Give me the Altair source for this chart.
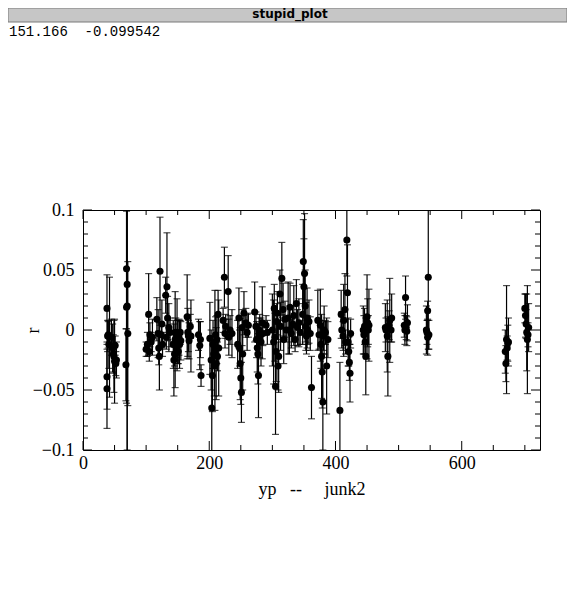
import altair as alt
import pandas as pd

# ---- data: x position, r value, error half-width ----
xs = [38, 39, 38, 38, 40, 41, 42,
      45, 47, 48, 49, 50, 52, 53, 51,
      69, 70, 69, 71, 68, 70,
      100, 102, 104, 106, 108, 110, 105,
      117, 119, 120, 121, 122, 124, 125, 126,
      131, 133, 134, 132, 136, 138,
      143, 144, 145, 146, 147, 148, 149, 150, 151, 152, 153, 154, 155,
      165, 166, 167, 168, 170, 171,
      183, 185, 187, 186,
      201, 203, 204, 205, 206, 207, 208, 209, 210, 211, 212, 213, 214, 215,
      222, 224, 225, 226, 230, 231, 233, 236,
      245, 247, 248, 249, 250, 251, 252, 253, 255, 258, 260, 262,
      272, 274, 275, 276, 277, 278, 279, 280, 282, 284, 285, 290, 292,
      300, 302, 303, 304, 305, 306, 307, 308, 309, 310, 312, 313, 315, 317, 318, 320, 322,
      325, 327, 328, 330, 332, 334, 336, 338, 340, 342, 344,
      348, 349, 350, 351, 352, 353, 354, 355, 356, 358, 360, 362,
      372, 374, 376, 377, 378, 379, 380, 381, 382, 384, 386, 388,
      407, 409, 410, 412, 413, 415, 416, 418, 419, 420, 421, 422, 423, 424,
      444, 445, 446, 447, 448, 450, 451, 452, 453,
      479, 480, 482, 483, 485, 486, 488, 489,
      509, 510, 511, 512, 513, 514,
      545, 546, 546, 547, 548, 544,
      669, 670, 671, 672, 673, 674,
      700, 701, 702, 703, 704, 705, 706]

rs = [0.018, -0.005, -0.039, -0.049, -0.004, -0.012, -0.006,
      -0.006, -0.015, -0.020, -0.022, -0.026, -0.028, -0.025, -0.013,
      0.051, 0.038, 0.019, -0.003, -0.029, 0.020,
      -0.016, -0.012, 0.013, -0.004, -0.010, -0.006, -0.018,
      0.009, -0.003, -0.015, -0.022, 0.049, -0.004, 0.005, -0.012,
      0.029, 0.036, 0.010, -0.006, 0.002, -0.002,
      -0.012, -0.025, -0.020, -0.008, -0.002, -0.015, -0.004, -0.010, -0.018, -0.006, -0.012, -0.002, -0.009,
      0.011, -0.002, -0.005, -0.009, 0.003, -0.005,
      -0.004, -0.013, -0.038, -0.008,
      -0.007, -0.025, -0.065, -0.038, -0.012, -0.020, -0.030, -0.017, -0.004, -0.028, -0.008, -0.022, 0.013, -0.015,
      0.008, 0.044, -0.003, 0.003, 0.032, -0.006, 0.000, -0.003,
      -0.012, 0.010, -0.015, -0.028, -0.040, -0.052, 0.002, -0.020, 0.014, 0.006, -0.002, 0.004,
      0.015, 0.003, -0.008, -0.015, -0.020, -0.038, 0.000, -0.005, -0.010, 0.006, -0.003, 0.004, -0.002,
      0.000, -0.010, 0.018, -0.006, -0.047, -0.018, 0.007, 0.014, -0.030, -0.022, 0.030, 0.003, 0.043, 0.017, -0.008, 0.009, 0.000,
      0.010, 0.000, 0.019, -0.003, 0.005, 0.012, -0.008, 0.022, 0.002, 0.006, -0.002,
      0.013, 0.057, 0.036, 0.047, 0.020, 0.003, -0.005, 0.010, 0.000, 0.007, -0.003, -0.048,
      0.008, -0.004, 0.004, -0.012, -0.022, -0.035, -0.060, -0.005, 0.000, -0.002, -0.030, -0.008,
      -0.067, 0.013, 0.000, -0.005, 0.008, 0.017, -0.010, 0.075, 0.031, -0.010, -0.018, -0.027, -0.036, -0.003,
      0.000, -0.004, 0.003, -0.010, -0.022, 0.011, 0.006, 0.000, 0.004,
      0.002, 0.000, -0.005, -0.022, 0.004, 0.008, 0.000, 0.010,
      0.004, 0.000, 0.027, 0.002, -0.001, 0.006,
      -0.002, 0.016, -0.006, 0.044, -0.004, 0.000,
      -0.018, -0.028, -0.008, -0.015, -0.011, -0.010,
      0.018, 0.012, 0.005, -0.002, -0.008, -0.004, 0.002]

errs = [0.028, 0.013, 0.027, 0.033, 0.011, 0.020, 0.050,
        0.015, 0.020, 0.016, 0.030, 0.035, 0.010, 0.015, 0.008,
        0.050, 0.140, 0.080, 0.060, 0.030, 0.120,
        0.006, 0.010, 0.034, 0.010, 0.008, 0.015, 0.008,
        0.018, 0.020, 0.014, 0.028, 0.045, 0.010, 0.020, 0.010,
        0.015, 0.045, 0.018, 0.010, 0.020, 0.012,
        0.020, 0.030, 0.010, 0.040, 0.012, 0.008, 0.030, 0.018, 0.010, 0.015, 0.020, 0.010, 0.016,
        0.035, 0.020, 0.013, 0.015, 0.010, 0.030,
        0.013, 0.020, 0.009, 0.015,
        0.030, 0.025, 0.060, 0.030, 0.020, 0.012, 0.025, 0.050, 0.015, 0.030, 0.020, 0.012, 0.020, 0.040,
        0.010, 0.025, 0.012, 0.010, 0.030, 0.015, 0.012, 0.020,
        0.020, 0.025, 0.015, 0.030, 0.022, 0.025, 0.015, 0.030, 0.018, 0.012, 0.015, 0.010,
        0.025, 0.012, 0.015, 0.020, 0.025, 0.035, 0.010, 0.018, 0.020, 0.030, 0.010, 0.008, 0.010,
        0.030, 0.035, 0.020, 0.020, 0.040, 0.025, 0.015, 0.018, 0.020, 0.030, 0.020, 0.020, 0.030, 0.022, 0.020, 0.015, 0.010,
        0.030, 0.020, 0.020, 0.012, 0.015, 0.025, 0.010, 0.020, 0.015, 0.020, 0.010,
        0.025, 0.035, 0.040, 0.050, 0.030, 0.020, 0.015, 0.025, 0.012, 0.018, 0.014, 0.026,
        0.025, 0.012, 0.030, 0.020, 0.035, 0.030, 0.040, 0.012, 0.020, 0.010, 0.040, 0.015,
        0.040, 0.020, 0.015, 0.012, 0.030, 0.030, 0.010, 0.030, 0.040, 0.020, 0.012, 0.015, 0.024, 0.012,
        0.020, 0.016, 0.015, 0.010, 0.032, 0.035, 0.020, 0.012, 0.030,
        0.020, 0.010, 0.030, 0.033, 0.012, 0.035, 0.010, 0.020,
        0.010, 0.012, 0.018, 0.010, 0.012, 0.015,
        0.010, 0.008, 0.015, 0.060, 0.012, 0.020,
        0.018, 0.015, 0.045, 0.010, 0.015, 0.020,
        0.012, 0.018, 0.012, 0.032, 0.045, 0.010, 0.020]

x_major = [0, 200, 400, 600]
x_minor = [50, 100, 150, 250, 300, 350, 450, 500, 550, 650, 700]
y_major = [-0.1, -0.05, 0, 0.05, 0.1]
y_minor = [-0.09, -0.08, -0.07, -0.06, -0.04, -0.03, -0.02, -0.01,
           0.01, 0.02, 0.03, 0.04, 0.06, 0.07, 0.08, 0.09]

W, H = 457, 240
FONT = "Liberation Serif"
LW = 1.2

df = pd.DataFrame({"x": xs, "r": rs, "e": errs})
df["lo"] = df["r"] - df["e"]
df["hi"] = df["r"] + df["e"]

xscale = alt.Scale(domain=[0, 724], nice=False, zero=False)
yscale = alt.Scale(domain=[-0.1, 0.1], nice=False, zero=False)

xaxis = alt.Axis(values=x_major, title="yp\u00a0\u00a0\u00a0--\u00a0\u00a0\u00a0\u00a0\u00a0junk2",
                 ticks=False, domain=False, grid=False, labelPadding=4,
                 labelFlush=False, titlePadding=8, format="d")
yaxis = alt.Axis(values=y_major, title="r", ticks=False, domain=False,
                 grid=False, labelPadding=9, labelFlush=False,
                 titleX=-41, titleY=H / 2, format="~g")

base = alt.Chart(df)

bars = base.mark_rule(color="black", strokeWidth=LW, clip=True).encode(
    x=alt.X("x:Q", scale=xscale, axis=xaxis),
    y=alt.Y("lo:Q", scale=yscale, axis=yaxis),
    y2="hi:Q",
)
cap_lo = base.mark_tick(color="black", orient="horizontal", size=7, thickness=LW, clip=True).encode(
    x=alt.X("x:Q", scale=xscale, axis=xaxis),
    y=alt.Y("lo:Q", scale=yscale, axis=yaxis),
)
cap_hi = base.mark_tick(color="black", orient="horizontal", size=7, thickness=LW, clip=True).encode(
    x=alt.X("x:Q", scale=xscale, axis=xaxis),
    y=alt.Y("hi:Q", scale=yscale, axis=yaxis),
)
points = base.mark_circle(size=50, color="black", opacity=1).encode(
    x=alt.X("x:Q", scale=xscale, axis=xaxis),
    y=alt.Y("r:Q", scale=yscale, axis=yaxis),
)


def xticks(vals, L):
    c = alt.Chart(pd.DataFrame({"x": vals}))
    xe = alt.X("x:Q", scale=xscale, axis=xaxis)
    return [
        c.mark_rule(color="black", strokeWidth=1).encode(x=xe, y=alt.value(H), y2=alt.value(H - L)),
        c.mark_rule(color="black", strokeWidth=1).encode(x=xe, y=alt.value(0), y2=alt.value(L)),
    ]


def yticks(vals, L):
    c = alt.Chart(pd.DataFrame({"r": vals}))
    ye = alt.Y("r:Q", scale=yscale, axis=yaxis)
    return [
        c.mark_rule(color="black", strokeWidth=1).encode(y=ye, x=alt.value(0), x2=alt.value(L)),
        c.mark_rule(color="black", strokeWidth=1).encode(y=ye, x=alt.value(W), x2=alt.value(W - L)),
    ]


tick_layers = xticks(x_major, 9) + xticks(x_minor, 5) + yticks(y_major, 9) + yticks(y_minor, 5)

deco = alt.Chart(pd.DataFrame({"d": [0]}))
title_bar = deco.mark_rect(fill="#c6c6c6", stroke="#7a7a7a", strokeWidth=1).encode(
    x=alt.value(-75), x2=alt.value(484), y=alt.value(-202), y2=alt.value(-188)
)
title_text = deco.mark_text(font="DejaVu Sans", fontWeight="bold", fontSize=12,
                            align="center", baseline="middle", color="black").encode(
    x=alt.value(207), y=alt.value(-196), text=alt.value("stupid_plot")
)
readout = deco.mark_text(font="Liberation Mono", fontSize=14, align="left",
                         baseline="middle", color="black").encode(
    x=alt.value(-74), y=alt.value(-178), text=alt.value("151.166\u00a0\u00a0-0.099542")
)

chart = alt.layer(
    bars, cap_lo, cap_hi, points, *tick_layers, title_bar, title_text, readout
).properties(
    width=W, height=H,
    autosize=alt.AutoSizeParams(type="none"),
    padding={"left": 75, "top": 202, "right": 27, "bottom": 135},
    background="white",
).configure_view(
    stroke="black", strokeWidth=1
).configure_axis(
    labelFont=FONT, titleFont=FONT, labelFontSize=18, titleFontSize=18,
    labelColor="black", titleColor="black", titleFontWeight="normal", grid=False
)

chart.save("out.html", embed_options={"renderer": "svg", "actions": False})
